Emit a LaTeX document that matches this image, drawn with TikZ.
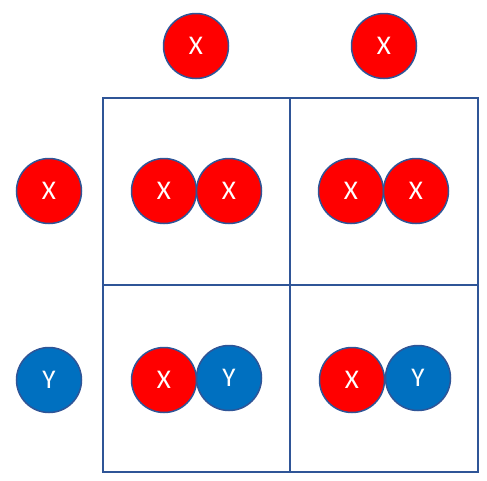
\documentclass[tikz,border=0pt]{standalone}
\usepackage{fontspec}
\setmainfont{Carlito}
\definecolor{edge}{HTML}{2F5597}
\definecolor{xred}{HTML}{FF0000}
\definecolor{yblue}{HTML}{0070C0}
\begin{document}
\begin{tikzpicture}[x=1pt,y=-1pt,
  ball/.style={circle,draw=edge,line width=1.5pt,minimum size=65pt,inner sep=0pt,text=white,font=\fontsize{27}{27}\selectfont},
  xb/.style={ball,fill=xred},
  yb/.style={ball,fill=yblue},
  gridline/.style={draw=edge,line width=1.6pt}]
\useasboundingbox (0,0) rectangle (487,480);
\draw[gridline] (103,98) rectangle (478,472);
\draw[gridline] (290,98) -- (290,472);
\draw[gridline] (103,285) -- (478,285);
\node[xb] (t1) at (196,46) {X};
\node[xb] (t2) at (384,46) {X};
\node[xb] (l1) at (49,191) {X};
\node[yb] (l2) at (49,380) {Y};
\node[xb] (a1) at (164,191) {X};
\node[xb] (a2) at (229,191) {X};
\node[xb] (b1) at (351,191) {X};
\node[xb] (b2) at (416,191) {X};
\node[xb] (c1) at (164,380) {X};
\node[yb] (c2) at (229,378) {Y};
\node[xb] (d1) at (352,380) {X};
\node[yb] (d2) at (418,378) {Y};
\end{tikzpicture}
\end{document}
